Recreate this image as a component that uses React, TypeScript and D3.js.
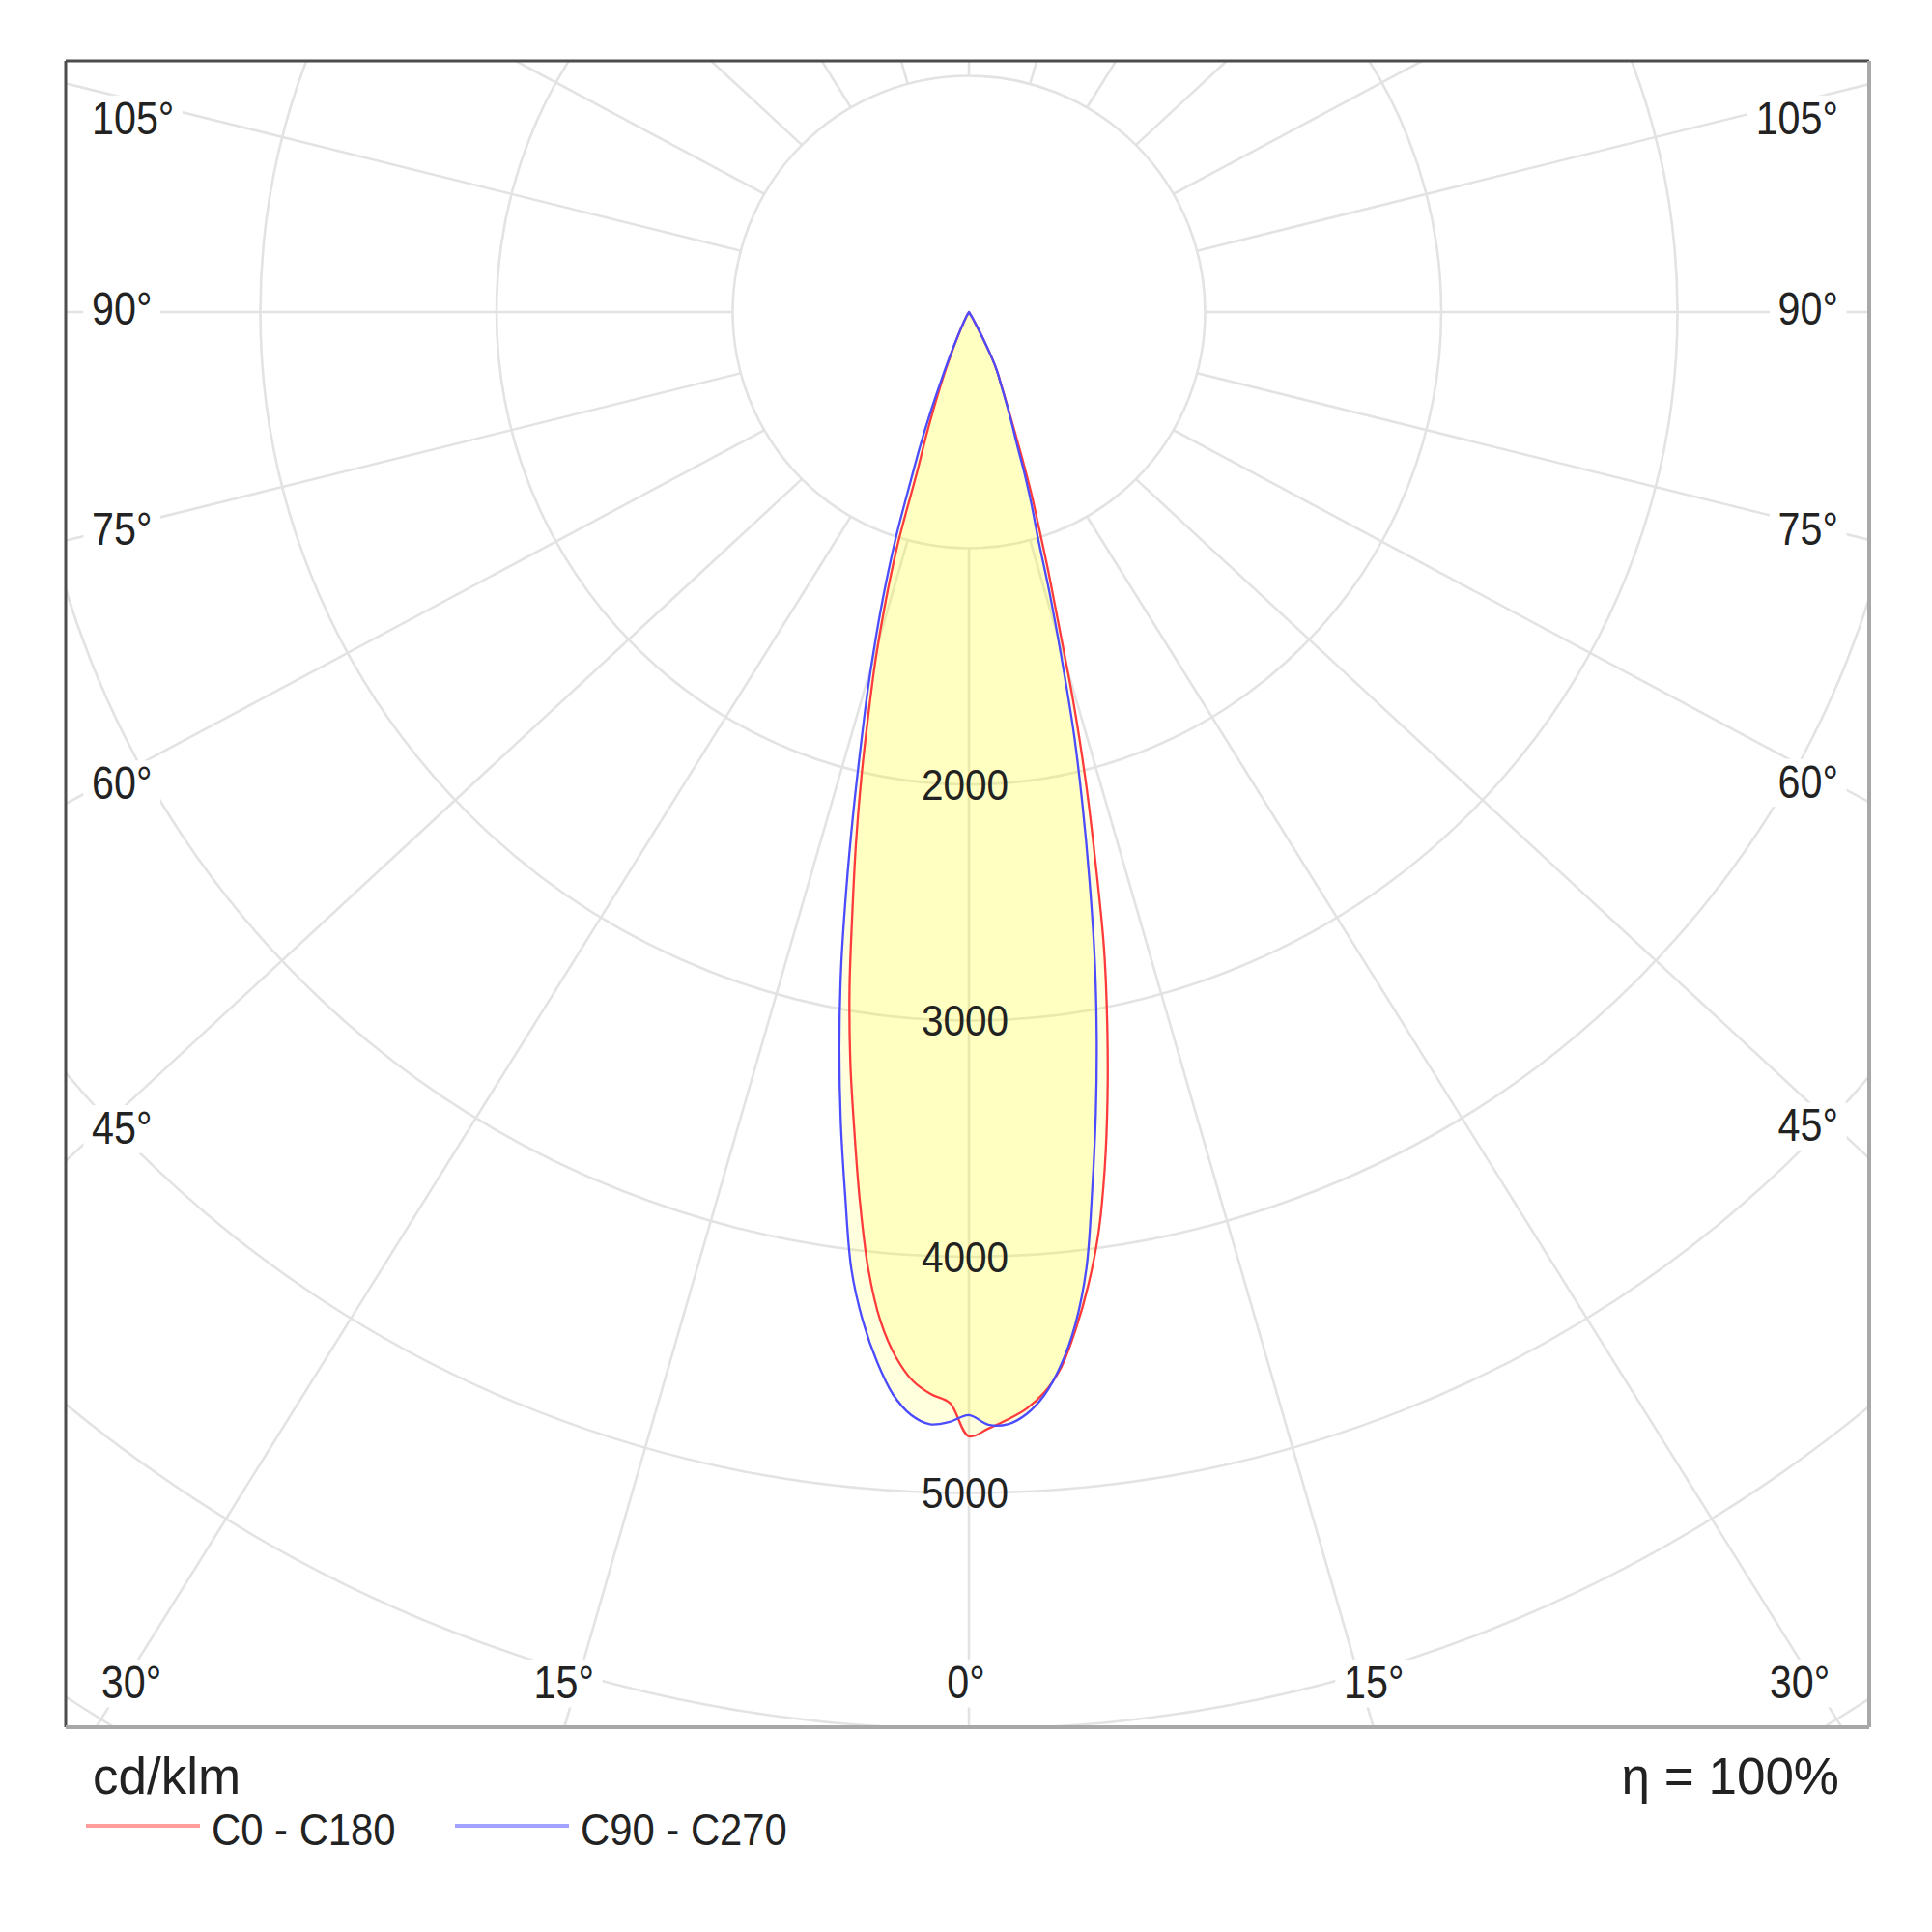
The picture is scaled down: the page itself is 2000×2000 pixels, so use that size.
import * as d3 from "d3";
import React, { useEffect, useRef } from "react";

// gamma angles (deg) of the measured intensities
const gammaDeg = d3.range(0, 36);

// cd/klm
const c0 = [4760, 4728, 4692, 4650, 4585, 4485, 4330, 4150, 3940, 3675, 3380, 3070, 2750, 2375, 2040, 1710, 1385, 1155, 960, 810, 660, 540, 450, 385, 335, 295, 255, 190, 125, 80, 50, 30, 15, 5, 0, 0];
const c180 = [4760, 4620, 4585, 4532, 4435, 4290, 4075, 3790, 3490, 3210, 2910, 2585, 2300, 2025, 1762, 1530, 1288, 1040, 700, 560, 440, 340, 260, 190, 135, 95, 65, 45, 30, 20, 10, 0, 0, 0, 0, 0];
const c90 = [4670, 4712, 4712, 4672, 4595, 4475, 4310, 4081, 3752, 3435, 3117, 2792, 2453, 2135, 1835, 1515, 1245, 1000, 860, 725, 590, 510, 440, 380, 330, 295, 255, 190, 125, 80, 50, 30, 15, 5, 0, 0];
const c270 = [4670, 4700, 4712, 4676, 4595, 4462, 4295, 4083, 3768, 3468, 3159, 2837, 2495, 2176, 1891, 1652, 1422, 1204, 990, 760, 600, 450, 320, 220, 150, 100, 70, 45, 30, 20, 10, 0, 0, 0, 0, 0];

const ringValues = [1000, 2000, 3000, 4000, 5000, 6000, 7000];
const ringLabels = [2000, 3000, 4000, 5000];
const spokeAngles = d3.range(0, 181, 15);
const labelAngles = [0, 15, 30, 45, 60, 75, 90, 105];

const legendItems = [
  { label: "C0 - C180", line: "#ff9d9d" },
  { label: "C90 - C270", line: "#a3a3ff" },
];

const W = 2000;
const H = 2000;
const frame = { left: 68, top: 63, right: 1935, bottom: 1788 };
const cx = 1003;
const cy = 323;
const gridColor = "#e3e3e3";
const textColor = "#222";
const font = "'Liberation Sans', Arial, sans-serif";
// the spokes of the original lean a little wider than the true angle
const spokeStretch = 1.07;
const spokeFar = 2000;

const rad = (deg: number) => (deg * Math.PI) / 180;

export default function App() {
  const svgRef = useRef<SVGSVGElement>(null);

  useEffect(() => {
    const r = d3.scaleLinear().domain([0, 1000]).range([0, 244.5]);

    const spokeLine = (g: number, side: number) => {
      const a = rad(g);
      return [
        cx + side * r(1000) * Math.sin(a),
        cy + r(1000) * Math.cos(a),
        cx + side * spokeFar * spokeStretch * Math.sin(a),
        cy + spokeFar * Math.cos(a),
      ];
    };

    const svg = d3.select(svgRef.current);
    svg.selectAll("*").remove();

    svg.append("rect").attr("width", W).attr("height", H).attr("fill", "#fff");

    svg
      .append("defs")
      .append("clipPath")
      .attr("id", "frame-clip")
      .append("rect")
      .attr("x", frame.left)
      .attr("y", frame.top)
      .attr("width", frame.right - frame.left)
      .attr("height", frame.bottom - frame.top);

    const plot = svg.append("g").attr("clip-path", "url(#frame-clip)");

    // rings
    plot
      .selectAll("circle.ring")
      .data(ringValues)
      .join("circle")
      .attr("class", "ring")
      .attr("cx", cx)
      .attr("cy", cy)
      .attr("r", (d) => r(d))
      .attr("fill", "none")
      .attr("stroke", gridColor)
      .attr("stroke-width", 2.6);

    // spokes, every 15 deg on both sides
    const spokes = spokeAngles.flatMap((g) => (g === 0 || g === 180 ? [[g, 1]] : [[g, -1], [g, 1]]));
    plot
      .selectAll("line.spoke")
      .data(spokes)
      .join("line")
      .attr("class", "spoke")
      .attr("x1", (d) => spokeLine(d[0], d[1])[0])
      .attr("y1", (d) => spokeLine(d[0], d[1])[1])
      .attr("x2", (d) => spokeLine(d[0], d[1])[2])
      .attr("y2", (d) => spokeLine(d[0], d[1])[3])
      .attr("stroke", gridColor)
      .attr("stroke-width", 2.6);

    // curves
    const radial = d3
      .lineRadial<[number, number]>()
      .angle((d) => d[0])
      .radius((d) => r(d[1]))
      .curve(d3.curveCatmullRom.alpha(0.5));

    const outline = (left: number[], right: number[]) => {
      const pts: [number, number][] = [];
      for (let i = gammaDeg.length - 1; i >= 0; i--) pts.push([Math.PI + rad(gammaDeg[i]), left[i]]);
      for (let i = 1; i < gammaDeg.length; i++) pts.push([Math.PI - rad(gammaDeg[i]), right[i]]);
      return radial(pts) + "Z";
    };

    const curves = [
      { d: outline(c180, c0), stroke: "#ff3a3a" },
      { d: outline(c270, c90), stroke: "#4b4bff" },
    ];

    const lobe = plot.append("g").attr("transform", `translate(${cx},${cy})`);
    lobe
      .selectAll("path.fill")
      .data(curves)
      .join("path")
      .attr("class", "fill")
      .attr("d", (d) => d.d)
      .attr("fill", "#ffff00")
      .attr("fill-opacity", 0.13);

    // angle labels with white boxes
    const labels = labelAngles.flatMap((g) => (g === 0 ? [[g, 0]] : [[g, -1], [g, 1]]));
    labels.forEach(([g, side]) => {
      let x: number;
      let y: number;
      let anchor = "middle";
      const yBottom = frame.bottom - 47;
      if (g === 0) {
        x = cx - 3;
        y = yBottom;
      } else {
        const [x0, y0, x1, y1] = spokeLine(g, side);
        const xEdge = side < 0 ? frame.left : frame.right;
        const tEdge = (xEdge - x0) / (x1 - x0);
        const yEdge = y0 + tEdge * (y1 - y0);
        if (yEdge <= frame.bottom) {
          const xl = side < 0 ? frame.left + 57 : frame.right - 57;
          const t = (xl - x0) / (x1 - x0);
          const yl = y0 + t * (y1 - y0);
          y = Math.max(yl - 4 + 0.027 * (yl - cy), frame.top + 59);
          x = side < 0 ? frame.left + 27 : frame.right - 32;
          anchor = side < 0 ? "start" : "end";
        } else {
          const t = (yBottom - y0) / (y1 - y0);
          x = x0 + t * (x1 - x0) + side * 14;
          x = Math.min(Math.max(x, frame.left + 68), frame.right - 72);
          y = yBottom;
        }
      }
      const g0 = svg.append("g").attr("transform", `translate(${x},${y}) scale(0.86,1)`);
      const box = g0.append("rect").attr("fill", "#fff");
      const txt = g0
        .append("text")
        .attr("text-anchor", anchor)
        .attr("dy", "0.35em")
        .attr("font-family", font)
        .attr("font-size", 48)
        .attr("fill", textColor)
        .text(`${g}°`);
      const bb = (txt.node() as SVGTextElement).getBBox();
      box
        .attr("x", bb.x - 10)
        .attr("y", bb.y + 4)
        .attr("width", bb.width + 20)
        .attr("height", bb.height - 4);
    });

    lobe
      .selectAll("path.line")
      .data(curves)
      .join("path")
      .attr("class", "line")
      .attr("d", (d) => d.d)
      .attr("fill", "none")
      .attr("stroke", (d) => d.stroke)
      .attr("stroke-width", 2.3)
      .attr("stroke-linejoin", "round");

    // value labels on the rings
    svg
      .selectAll("g.vlabel")
      .data(ringLabels)
      .join("g")
      .attr("class", "vlabel")
      .attr("transform", (d) => `translate(${cx - 4},${cy + r(d)}) scale(0.9,1)`)
      .append("text")
      .attr("text-anchor", "middle")
      .attr("dy", "0.35em")
      .attr("font-family", font)
      .attr("font-size", 45)
      .attr("fill", textColor)
      .text((d) => String(d));

    // frame
    const border = svg.append("g");
    border
      .append("line")
      .attr("x1", frame.left)
      .attr("y1", frame.top)
      .attr("x2", frame.right)
      .attr("y2", frame.top)
      .attr("stroke", "#4d4d4d")
      .attr("stroke-width", 3);
    border
      .append("line")
      .attr("x1", frame.left)
      .attr("y1", frame.top)
      .attr("x2", frame.left)
      .attr("y2", frame.bottom)
      .attr("stroke", "#4d4d4d")
      .attr("stroke-width", 3);
    border
      .append("line")
      .attr("x1", frame.right)
      .attr("y1", frame.top)
      .attr("x2", frame.right)
      .attr("y2", frame.bottom)
      .attr("stroke", "#a8a8a8")
      .attr("stroke-width", 4);
    border
      .append("line")
      .attr("x1", frame.left)
      .attr("y1", frame.bottom)
      .attr("x2", frame.right)
      .attr("y2", frame.bottom)
      .attr("stroke", "#a8a8a8")
      .attr("stroke-width", 4);

    // unit and efficiency
    svg
      .append("text")
      .attr("x", 96)
      .attr("y", 1857)
      .attr("font-family", font)
      .attr("font-size", 53)
      .attr("fill", textColor)
      .text("cd/klm");
    svg
      .append("text")
      .attr("x", 1904)
      .attr("y", 1857)
      .attr("text-anchor", "end")
      .attr("font-family", font)
      .attr("font-size", 53)
      .attr("fill", textColor)
      .text("η = 100%");

    // legend
    const legend = svg
      .selectAll("g.legend")
      .data(legendItems)
      .join("g")
      .attr("class", "legend")
      .attr("transform", (_, i) => `translate(${89 + i * 382},1890)`);
    legend
      .append("line")
      .attr("x1", 0)
      .attr("x2", 118)
      .attr("stroke", (d) => d.line)
      .attr("stroke-width", 4);
    legend
      .append("g")
      .attr("transform", "translate(130,20) scale(0.89,1)")
      .append("text")
      .attr("font-family", font)
      .attr("font-size", 47)
      .attr("fill", textColor)
      .text((d) => d.label);
  }, []);

  return <svg ref={svgRef} width={W} height={H} style={{ position: "absolute", left: 0, top: 0 }} />;
}
